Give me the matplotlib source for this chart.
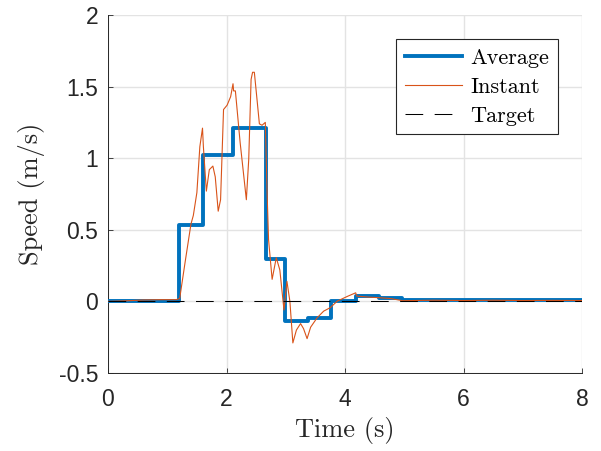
import matplotlib
matplotlib.use('Agg')
import matplotlib.pyplot as plt

# -------- data --------
avg_t = [0.0, 0.40, 0.80, 1.19, 1.60, 2.11, 2.66, 2.99, 3.37, 3.77, 4.18, 4.57,
         4.97, 5.37, 5.77, 6.17, 6.57, 6.97, 7.37, 7.77, 8.0]
avg_v = [0.002, 0.003, 0.004, 0.533, 1.02, 1.208, 0.298, -0.137, -0.114, 0.005,
         0.037, 0.023, 0.008, 0.007, 0.007, 0.007, 0.007, 0.007, 0.007, 0.007, 0.007]

inst_t = [0.0, 0.3, 0.6, 0.9, 1.15, 1.21, 1.30, 1.40, 1.44, 1.50, 1.55, 1.595,
          1.61, 1.66, 1.71, 1.77, 1.81, 1.86, 1.90, 1.95, 2.01, 2.07, 2.11, 2.12,
          2.15, 2.23, 2.335, 2.375, 2.415, 2.44, 2.47, 2.515, 2.555, 2.60, 2.655,
          2.685, 2.71, 2.77, 2.84, 2.90, 2.97, 3.02, 3.07, 3.12, 3.18, 3.25, 3.30,
          3.36, 3.42, 3.53, 3.64, 3.75, 3.87, 4.04, 4.18, 4.20, 4.40, 4.57, 4.77,
          4.97, 5.5, 6.0, 6.5, 7.0, 7.5, 8.0]
inst_v = [0.0, 0.004, 0.010, 0.012, 0.012, 0.02, 0.27, 0.54, 0.60, 0.76, 1.08, 1.21,
          1.08, 0.77, 0.92, 0.945, 0.87, 0.63, 0.71, 1.34, 1.37, 1.43, 1.52, 1.47,
          1.47, 1.11, 0.71, 0.99, 1.55, 1.60, 1.60, 1.41, 1.24, 1.23, 1.25,
          0.76, 0.43, 0.154, 0.305, 0.22, -0.06, 0.14, 0.0, -0.29, -0.20, -0.155, -0.19,
          -0.26, -0.18, -0.114, -0.068, -0.044, 0.002, 0.035, 0.06, 0.037, 0.03, 0.026, 0.02,
          0.005, 0.008, 0.006, 0.008, 0.006, 0.007, 0.006]

target_t = [0.0, 8.0]
target_v = [0.0, 0.0]

x_ticks = [0, 2, 4, 6, 8]
y_ticks = [-0.5, 0, 0.5, 1, 1.5, 2]
y_ticklabels = ['-0.5', '0', '0.5', '1', '1.5', '2']

BLUE = '#0072BD'
ORANGE = '#D95319'
AXC = '#262626'

fig = plt.figure(figsize=(6.01, 4.51), dpi=100)
ax = fig.add_axes([108 / 601, 78 / 451, 474 / 601, 358 / 451])

ax.step(avg_t, avg_v, where='post', color=BLUE, linewidth=2.8, label='Average', zorder=3)
ax.plot(inst_t, inst_v, color=ORANGE, linewidth=0.8, label='Instant', zorder=4)
ax.plot(target_t, target_v, color='black', linewidth=0.75, linestyle=(0, (17, 11)),
        label='Target', zorder=5)

ax.set_xlim(0, 8)
ax.set_ylim(-0.5, 2)
ax.set_xticks(x_ticks)
ax.set_xticklabels([str(t) for t in x_ticks])
ax.set_yticks(y_ticks)
ax.set_yticklabels(y_ticklabels)

for lab in ax.get_xticklabels() + ax.get_yticklabels():
    lab.set_fontfamily('Liberation Sans')
    lab.set_fontsize(16.5)
    lab.set_color(AXC)

ax.tick_params(direction='in', length=3.5, width=0.6, color=AXC)
ax.tick_params(axis='x', pad=11)
ax.tick_params(axis='y', pad=7)

ax.spines['top'].set_visible(False)
ax.spines['right'].set_visible(False)
for s in ('left', 'bottom'):
    ax.spines[s].set_color(AXC)
    ax.spines[s].set_linewidth(0.7)

ax.grid(True, color='#e3e3e3', linewidth=1.0)
ax.set_axisbelow(True)

ax.set_xlabel('Time (s)', fontfamily='cmr10', fontsize=19, color=AXC, labelpad=4)
ax.set_ylabel('Speed (m/s)', fontfamily='cmr10', fontsize=19, color=AXC, labelpad=10)

leg = ax.legend(loc='upper right', bbox_to_anchor=(0.949, 0.932), borderaxespad=0,
                prop={'family': 'cmr10', 'size': 16}, frameon=True, fancybox=False,
                framealpha=1, edgecolor=AXC, handlelength=2.6, handletextpad=0.35,
                labelspacing=0.42, borderpad=0.4)
leg.get_frame().set_linewidth(0.8)

fig.savefig('out.png', dpi=100)
